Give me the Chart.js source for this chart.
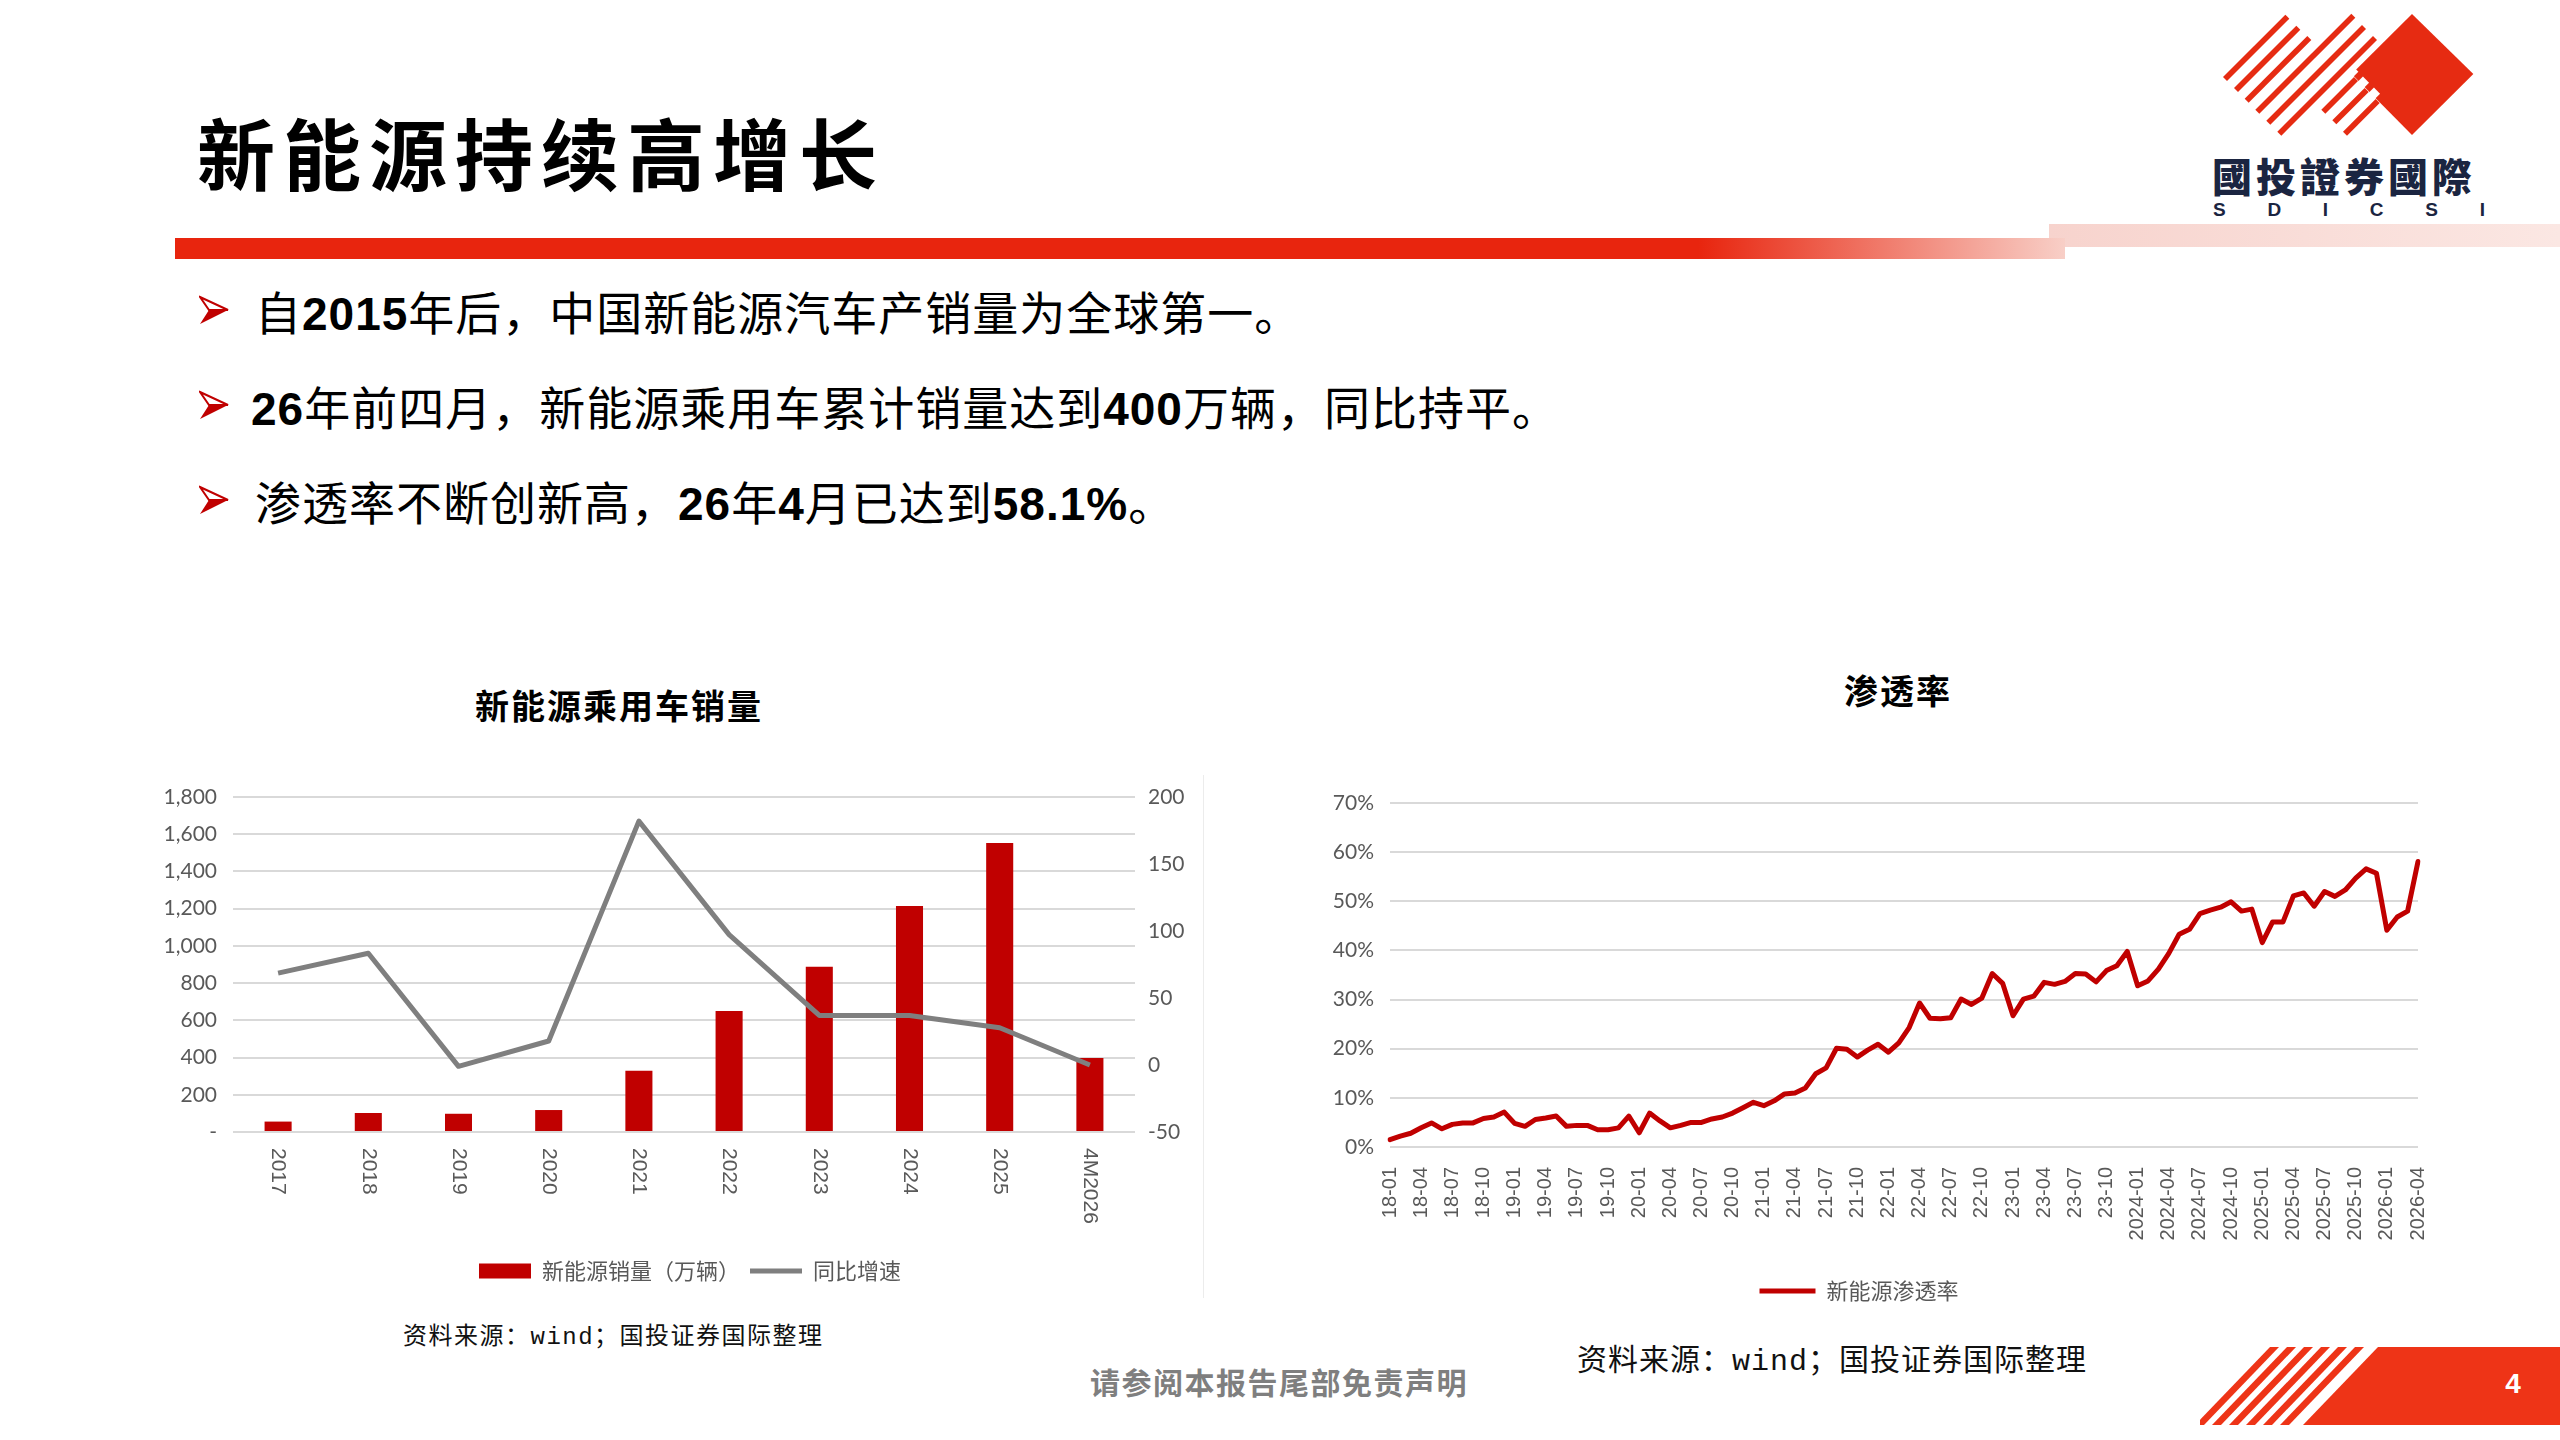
<!DOCTYPE html>
<html lang="zh-CN">
<head>
<meta charset="utf-8">
<title>新能源持续高增长</title>
<script src="https://cdn.jsdelivr.net/npm/chart.js@4.4.1/dist/chart.umd.min.js"></script>
<style>
html, body { margin: 0; padding: 0; background: #fff; }
body { position: relative; width: 2560px; height: 1440px; overflow: hidden; font-family: "Noto Sans CJK SC", sans-serif; }
.abs { position: absolute; }
#page-title { left: 197px; top: 101px; font-size: 78px; line-height: 100px; font-weight: 700; letter-spacing: 8px; color: #000; white-space: nowrap; }
#band-pink { left: 2049px; top: 224px; width: 511px; height: 23px; background: linear-gradient(to right, #f7d3cd, #fbe7e3); }
#band-red { left: 175px; top: 238px; width: 1890px; height: 21px; background: linear-gradient(to right, #e8250e 0%, #e8250e 80.6%, #f8cfc7 100%); }
.bullet { left: 199px; height: 60px; width: 1500px; }
.bullet svg { position: absolute; left: 0; top: 15px; }
.bullet .txt { position: absolute; left: 56px; top: 0; font-size: 46px; line-height: 60px; letter-spacing: 1px; color: #000; white-space: nowrap; }
.bullet b { font-family: "Liberation Sans", sans-serif; font-weight: 700; }
.chart-title { width: 400px; text-align: center; font-size: 34px; line-height: 50px; font-weight: 700; letter-spacing: 2px; color: #000; }
.source { white-space: nowrap; color: #111; }
.mono { font-family: "Liberation Mono", monospace; }
#logo-name { left: 2212px; top: 151px; font-size: 40px; line-height: 48px; font-weight: 900; letter-spacing: 4px; color: #1b2541; white-space: nowrap; }
#logo-abbr { left: 2213px; top: 200px; width: 272px; display: flex; justify-content: space-between; font-family: "Liberation Sans", sans-serif; font-weight: 700; font-size: 19px; line-height: 20px; color: #1b2541; }
#footer-note { left: 1090px; top: 1361px; font-size: 30px; line-height: 40px; font-weight: 700; letter-spacing: 1.5px; color: #7f7f7f; white-space: nowrap; }
#page-num { left: 2490px; top: 1364px; width: 46px; text-align: center; font-family: "Liberation Sans", sans-serif; font-weight: 700; font-size: 28px; line-height: 40px; color: #fff; }
</style>
</head>
<body>

<div id="band-pink" class="abs"></div>
<div id="band-red" class="abs"></div>
<div id="page-title" class="abs">新能源持续高增长</div>

<svg class="abs" style="left:2200px;top:0" width="360" height="230" viewBox="0 0 1080 690">
  <g stroke="#e62b12" stroke-width="17" fill="none">
    <line x1="75" y1="237" x2="262" y2="50"/>
    <line x1="108" y1="270" x2="295" y2="83"/>
    <line x1="140" y1="302" x2="328" y2="114"/>
    <line x1="172" y1="335" x2="460" y2="47"/>
    <line x1="205" y1="368" x2="492" y2="81"/>
    <line x1="238" y1="401" x2="525" y2="114"/>
  </g>
  <polygon points="636,42 820,222 636,405 455,222" fill="#e62b12"/>
  <g stroke="#fff" stroke-width="26" fill="none">
    <line x1="353" y1="319" x2="466" y2="206"/>
    <line x1="386" y1="351" x2="498" y2="239"/>
    <line x1="419" y1="384" x2="531" y2="272"/>
  </g>
  <g stroke="#e62b12" stroke-width="17" fill="none">
    <line x1="370" y1="335" x2="468" y2="237"/>
    <line x1="403" y1="367" x2="500" y2="270"/>
    <line x1="435" y1="401" x2="533" y2="303"/>
  </g>
</svg>
<div id="logo-name" class="abs">國投證券國際</div>
<div id="logo-abbr" class="abs"><span>S</span><span>D</span><span>I</span><span>C</span><span>S</span><span>I</span></div>

<div class="abs bullet" style="top:280px">
  <svg width="30" height="30" viewBox="0 0 30 30"><polygon points="1,2 29,15 10,15" fill="#fff" stroke="#c00000" stroke-width="2"/><polygon points="1,29 29,15 10,15" fill="#c00000"/></svg>
  <span class="txt">自<b>2015</b>年后，中国新能源汽车产销量为全球第一。</span>
</div>
<div class="abs bullet" style="top:375px">
  <svg width="30" height="30" viewBox="0 0 30 30"><polygon points="1,2 29,15 10,15" fill="#fff" stroke="#c00000" stroke-width="2"/><polygon points="1,29 29,15 10,15" fill="#c00000"/></svg>
  <span class="txt" style="left:52px"><b>26</b>年前四月，新能源乘用车累计销量达到<b>400</b>万辆，同比持平。</span>
</div>
<div class="abs bullet" style="top:470px">
  <svg width="30" height="30" viewBox="0 0 30 30"><polygon points="1,2 29,15 10,15" fill="#fff" stroke="#c00000" stroke-width="2"/><polygon points="1,29 29,15 10,15" fill="#c00000"/></svg>
  <span class="txt">渗透率不断创新高，<b>26</b>年<b>4</b>月已达到<b>58.1%</b>。</span>
</div>

<div class="abs chart-title" style="left:419px;top:680px">新能源乘用车销量</div>
<div class="abs chart-title" style="left:1698px;top:665px">渗透率</div>

<div class="abs" style="left:1203px;top:775px;width:1px;height:523px;background:#ececec"></div>
<canvas id="salesChart" class="abs" style="left:140px;top:760px" width="1100" height="532"></canvas>
<canvas id="rateChart" class="abs" style="left:1300px;top:770px" width="1200" height="542"></canvas>

<div class="abs source" style="left:403px;top:1317px;font-size:24px;line-height:34px;letter-spacing:1.5px">资料来源：<span class="mono">wind</span>；国投证券国际整理</div>
<div class="abs source" style="left:1577px;top:1337px;font-size:30px;line-height:40px;letter-spacing:1px">资料来源：<span class="mono">wind</span>；国投证券国际整理</div>

<div id="footer-note" class="abs">请参阅本报告尾部免责声明</div>
<svg class="abs" style="left:2200px;top:1340px" width="360" height="100" viewBox="2200 1340 360 100">
  <g fill="#ee3417">
    <polygon points="2270,1347 2279,1347 2204,1425 2195,1425"/>
    <polygon points="2287,1347 2296,1347 2221,1425 2212,1425"/>
    <polygon points="2304,1347 2313,1347 2238,1425 2229,1425"/>
    <polygon points="2321,1347 2330,1347 2255,1425 2246,1425"/>
    <polygon points="2338,1347 2347,1347 2272,1425 2263,1425"/>
    <polygon points="2355,1347 2364,1347 2289,1425 2280,1425"/>
    <polygon points="2378,1347 2560,1347 2560,1425 2303,1425"/>
  </g>
</svg>
<div id="page-num" class="abs">4</div>

<script>
// 新能源乘用车销量（万辆）与同比增速（%）
const salesCategories = ['2017', '2018', '2019', '2020', '2021', '2022', '2023', '2024', '2025', '4M2026'];
const nevSales = [56, 102, 98, 118, 329, 650, 888, 1215, 1553, 398];
const nevSalesYoY = [68.6, 83.4, -1, 17.9, 182, 97.3, 37, 37, 27.8, 0];
const salesAxisRange = [0, 1800, 200];
const yoyAxisRange = [-50, 200, 50];

// 新能源渗透率（%），2018-01 至 2026-04 月度
const penetrationMonths = [];
for (let y = 2018; y <= 2026; y++) {
    for (let m = 1; m <= 12; m++) {
        if (y === 2026 && m > 4) break;
        const yy = y < 2024 ? String(y).slice(2) : String(y);
        penetrationMonths.push(yy + '-' + String(m).padStart(2, '0'));
    }
}
const penetrationRate = [
    1.5, 2.2, 2.8, 3.9, 4.9, 3.7, 4.6, 4.9, 4.9, 5.8, 6.1, 7.1,
    4.8, 4.2, 5.6, 5.9, 6.3, 4.2, 4.4, 4.4, 3.5, 3.5, 3.9, 6.3,
    2.9, 6.9, 5.3, 3.9, 4.4, 5.0, 5.0, 5.7, 6.1, 6.9, 8.0, 9.1,
    8.4, 9.4, 10.8, 11.0, 12.0, 14.9, 16.1, 20.1, 19.9, 18.3, 19.7, 20.9,
    19.3, 21.2, 24.3, 29.3, 26.2, 26.1, 26.3, 30.1, 29.0, 30.3, 35.3, 33.3,
    26.7, 30.1, 30.7, 33.5, 33.1, 33.7, 35.3, 35.2, 33.6, 35.9, 36.9, 39.8,
    32.8, 33.8, 36.2, 39.4, 43.3, 44.3, 47.5, 48.2, 48.8, 49.9, 48.0, 48.4,
    41.6, 45.8, 45.8, 51.1, 51.7, 49.0, 52.0, 51.0, 52.3, 54.7, 56.6, 55.7,
    44.1, 46.8, 48.0, 58.1
];
const rateAxisRange = [0, 70, 10];

const RED = '#c00000';
const GREY = '#7f7f7f';
const GRID = '#d9d9d9';
const TICK = '#595959';

Chart.defaults.font.family = 'Lato, "Noto Sans CJK SC", sans-serif';
Chart.defaults.color = TICK;

// legend in dataset order, bar as a block and line as a stroke
function legendItems(chart) {
    const items = Chart.defaults.plugins.legend.labels.generateLabels(chart);
    items.forEach(it => {
        it.pointStyle = chart.data.datasets[it.datasetIndex].type === 'line' ? 'line' : 'rect';
    });
    return items.sort((a, b) => a.datasetIndex - b.datasetIndex);
}

// x labels of the sales chart read top-to-bottom, starting at the axis
const downLabels = {
    id: 'downLabels',
    afterDraw(chart) {
        const xs = chart.scales.x;
        const ctx = chart.ctx;
        ctx.save();
        ctx.font = '21px "Liberation Sans"';
        ctx.fillStyle = TICK;
        ctx.textAlign = 'left';
        ctx.textBaseline = 'middle';
        chart.data.labels.forEach((lab, i) => {
            ctx.save();
            ctx.translate(xs.getPixelForValue(i), xs.top + 16);
            ctx.rotate(Math.PI / 2);
            ctx.fillText(lab, 0, 0);
            ctx.restore();
        });
        ctx.restore();
    }
};

new Chart(document.getElementById('salesChart'), {
    data: {
        labels: salesCategories,
        datasets: [{
            type: 'bar',
            label: '新能源销量（万辆）',
            data: nevSales,
            backgroundColor: RED,
            borderWidth: 0,
            barPercentage: 0.3,
            categoryPercentage: 1,
            yAxisID: 'y',
            order: 1
        }, {
            type: 'line',
            label: '同比增速',
            data: nevSalesYoY,
            borderColor: GREY,
            backgroundColor: GREY,
            borderWidth: 5,
            pointRadius: 0,
            tension: 0,
            borderJoinStyle: 'round',
            yAxisID: 'y2',
            order: 0
        }]
    },
    options: {
        responsive: false,
        animation: false,
        devicePixelRatio: 1,
        layout: { padding: { top: 37, left: 0, right: 0, bottom: 0 } },
        plugins: {
            tooltip: { enabled: false },
            legend: {
                position: 'bottom',
                labels: {
                    usePointStyle: true,
                    pointStyleWidth: 52,
                    boxHeight: 15,
                    padding: 10,
                    color: TICK,
                    font: { size: 22, family: '"Noto Sans CJK SC", sans-serif' },
                    generateLabels: legendItems
                }
            }
        },
        scales: {
            x: {
                offset: true,
                grid: { display: false },
                border: { display: false },
                ticks: { display: false },
                afterFit: s => { s.height = 118; }
            },
            y: {
                position: 'left',
                min: salesAxisRange[0],
                max: salesAxisRange[1],
                grid: { color: GRID, lineWidth: 2, drawTicks: false },
                border: { display: false },
                ticks: {
                    stepSize: salesAxisRange[2],
                    padding: 16,
                    color: TICK,
                    font: { size: 21 },
                    callback: v => v === 0 ? '-' : v.toLocaleString('en-US')
                },
                afterFit: s => { s.width = 93; }
            },
            y2: {
                position: 'right',
                min: yoyAxisRange[0],
                max: yoyAxisRange[1],
                grid: { display: false, drawTicks: false },
                border: { display: false },
                ticks: { stepSize: yoyAxisRange[2], padding: 13, color: TICK, font: { size: 21 } },
                afterFit: s => { s.width = 105; }
            }
        }
    },
    plugins: [downLabels]
});

new Chart(document.getElementById('rateChart'), {
    type: 'line',
    data: {
        labels: penetrationMonths,
        datasets: [{
            type: 'line',
            label: '新能源渗透率',
            data: penetrationRate,
            borderColor: RED,
            backgroundColor: RED,
            borderWidth: 5,
            pointRadius: 0,
            tension: 0,
            borderJoinStyle: 'round',
            borderCapStyle: 'round'
        }]
    },
    options: {
        responsive: false,
        animation: false,
        devicePixelRatio: 1,
        layout: { padding: { top: 33, left: 0, right: 82, bottom: 0 } },
        plugins: {
            tooltip: { enabled: false },
            legend: {
                position: 'bottom',
                labels: {
                    usePointStyle: true,
                    pointStyleWidth: 56,
                    boxHeight: 15,
                    padding: 10,
                    color: TICK,
                    font: { size: 22, family: '"Noto Sans CJK SC", sans-serif' },
                    generateLabels: legendItems
                }
            }
        },
        scales: {
            x: {
                offset: false,
                grid: { display: false },
                border: { display: false },
                ticks: {
                    autoSkip: false,
                    minRotation: 90,
                    maxRotation: 90,
                    padding: 12,
                    color: TICK,
                    font: { size: 20, family: '"Liberation Sans", sans-serif' },
                    callback: function (v, i) { return i % 3 === 0 ? this.getLabelForValue(v) : ''; }
                },
                afterFit: s => { s.height = 123; }
            },
            y: {
                min: rateAxisRange[0],
                max: rateAxisRange[1],
                grid: { color: GRID, lineWidth: 2, drawTicks: false },
                border: { display: false },
                ticks: {
                    stepSize: rateAxisRange[2],
                    padding: 16,
                    color: TICK,
                    font: { size: 21 },
                    callback: v => v + '%'
                },
                afterFit: s => { s.width = 90; }
            }
        }
    }
});
</script>
</body>
</html>
